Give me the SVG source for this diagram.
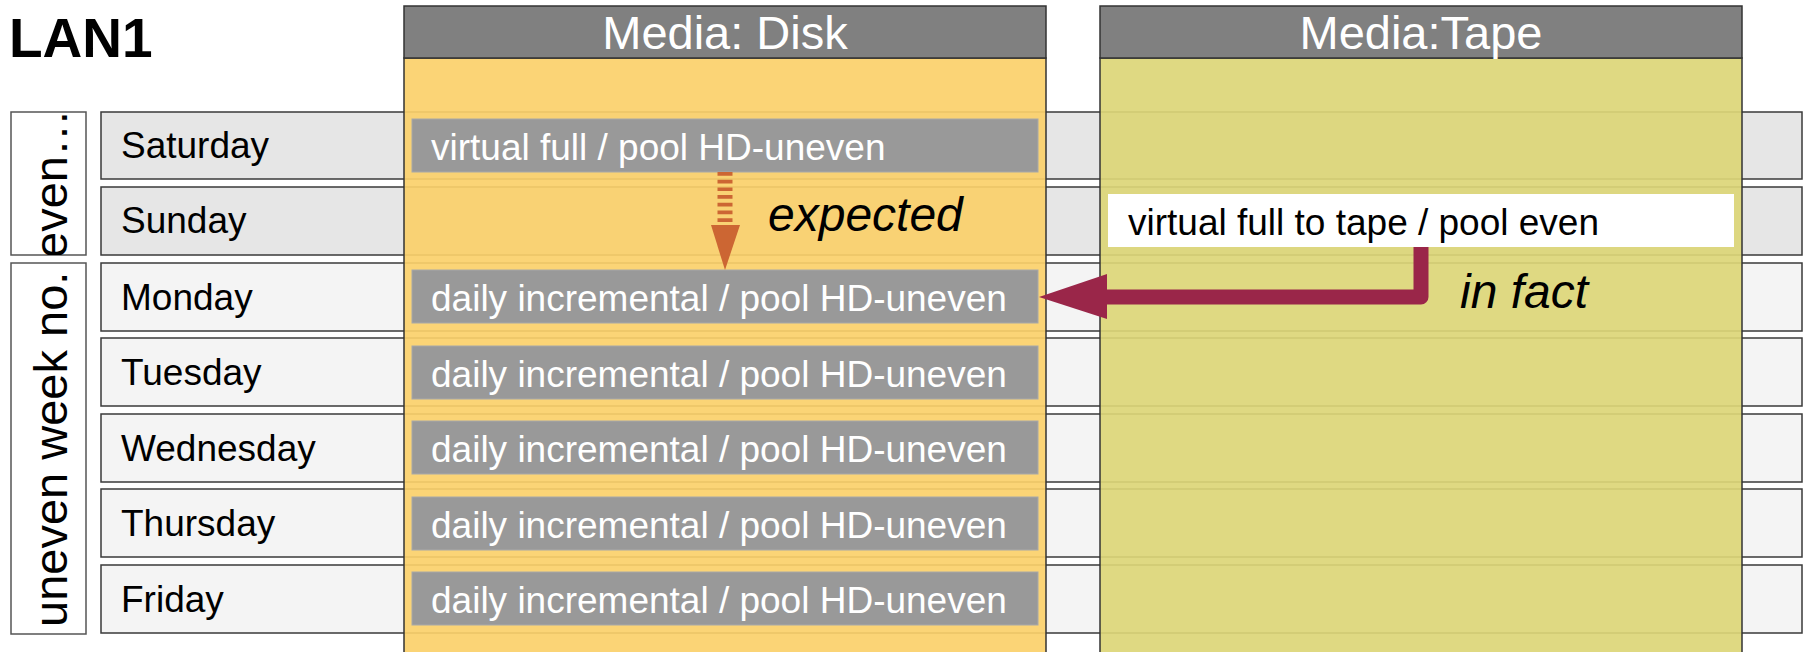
<svg xmlns="http://www.w3.org/2000/svg" width="1803" height="652" viewBox="0 0 1803 652">
<defs>
<style>
.row rect{stroke:#3a3a3a;stroke-width:1.5}
.we{fill:#e6e6e6}
.wd{fill:#f4f4f4}
.day{font-family:"Liberation Sans",Arial,sans-serif;font-size:37px;fill:#000}
.gbox{fill:#999999;stroke:#a8a8a8;stroke-width:1}
.gtxt{font-family:"Liberation Sans",Arial,sans-serif;font-size:37px;fill:#ffffff}
.hdr{fill:#808080;stroke:#333;stroke-width:1.5}
.htxt{font-family:"Liberation Sans",Arial,sans-serif;font-size:47px;fill:#ffffff;text-anchor:middle}
.side{fill:#ffffff;stroke:#555;stroke-width:1.5}
.stxt{font-family:"Liberation Sans",Arial,sans-serif;font-size:47px;fill:#000}
.lbl{font-family:"Liberation Sans",Arial,sans-serif;font-size:48px;font-style:italic;fill:#000}
</style>
<clipPath id="clipEven"><rect x="11" y="112" width="75" height="143"/></clipPath>
</defs>

<g id="rows" class="row">
<g id="row-saturday"><rect class="we" x="101" y="112" width="1701" height="67"/><text class="day" x="121" y="158">Saturday</text></g>
<g id="row-sunday"><rect class="we" x="101" y="187" width="1701" height="68"/><text class="day" x="121" y="233">Sunday</text></g>
<g id="row-monday"><rect class="wd" x="101" y="263" width="1701" height="68"/><text class="day" x="121" y="310">Monday</text></g>
<g id="row-tuesday"><rect class="wd" x="101" y="338" width="1701" height="68"/><text class="day" x="121" y="385">Tuesday</text></g>
<g id="row-wednesday"><rect class="wd" x="101" y="414" width="1701" height="68"/><text class="day" x="121" y="461">Wednesday</text></g>
<g id="row-thursday"><rect class="wd" x="101" y="489" width="1701" height="68"/><text class="day" x="121" y="536">Thursday</text></g>
<g id="row-friday"><rect class="wd" x="101" y="565" width="1701" height="68"/><text class="day" x="121" y="612">Friday</text></g>
</g>

<g id="col-disk">
<rect x="404" y="58" width="642" height="600" fill="#fbd06a" fill-opacity="0.92" stroke="#333" stroke-width="1.5"/>
<rect class="hdr" x="404" y="6" width="642" height="52"/>
<text class="htxt" x="725" y="49">Media: Disk</text>
</g>

<g id="col-tape">
<rect x="1100" y="58" width="642" height="600" fill="#dcd677" fill-opacity="0.92" stroke="#333" stroke-width="1.5"/>
<rect class="hdr" x="1100" y="6" width="642" height="52"/>
<text class="htxt" x="1421" y="49">Media:Tape</text>
</g>

<g id="title"><text x="9" y="57" font-family="'Liberation Sans',Arial,sans-serif" font-size="55" font-weight="bold" fill="#000">LAN1</text></g>

<g id="week-even">
<rect class="side" x="11" y="112" width="75" height="143"/>
<g clip-path="url(#clipEven)"><text class="stxt" transform="translate(67,258) rotate(-90)">even…</text></g>
</g>
<g id="week-uneven">
<rect class="side" x="11" y="263" width="75" height="371"/>
<text class="stxt" transform="translate(67,627) rotate(-90)">uneven week no.</text>
</g>

<g id="job-sat"><rect class="gbox" x="412" y="119" width="626" height="53"/><text class="gtxt" x="431" y="160">virtual full / pool HD-uneven</text></g>
<g id="job-mon"><rect class="gbox" x="412" y="270" width="626" height="53"/><text class="gtxt" x="431" y="311">daily incremental / pool HD-uneven</text></g>
<g id="job-tue"><rect class="gbox" x="412" y="346" width="626" height="53"/><text class="gtxt" x="431" y="387">daily incremental / pool HD-uneven</text></g>
<g id="job-wed"><rect class="gbox" x="412" y="421" width="626" height="53"/><text class="gtxt" x="431" y="462">daily incremental / pool HD-uneven</text></g>
<g id="job-thu"><rect class="gbox" x="412" y="497" width="626" height="53"/><text class="gtxt" x="431" y="538">daily incremental / pool HD-uneven</text></g>
<g id="job-fri"><rect class="gbox" x="412" y="572" width="626" height="53"/><text class="gtxt" x="431" y="613">daily incremental / pool HD-uneven</text></g>
<g id="job-tape"><rect x="1108" y="194" width="626" height="53" fill="#ffffff"/><text x="1128" y="235" font-family="'Liberation Sans',Arial,sans-serif" font-size="37" fill="#000">virtual full to tape / pool even</text></g>

<g id="connectors">
<line x1="725" y1="172" x2="725" y2="225" stroke="#cc6633" stroke-width="15" stroke-dasharray="3.7 4"/>
<polygon points="711,225 740,225 725,270" fill="#cc6633"/>
<path d="M1421,247 V297 H1100" fill="none" stroke="#9a2649" stroke-width="15" stroke-linejoin="round"/>
<polygon points="1107,274 1107,319 1039,297" fill="#9a2649"/>
<text class="lbl" x="768" y="231">expected</text>
<text class="lbl" x="1460" y="308">in fact</text>
</g>
</svg>
